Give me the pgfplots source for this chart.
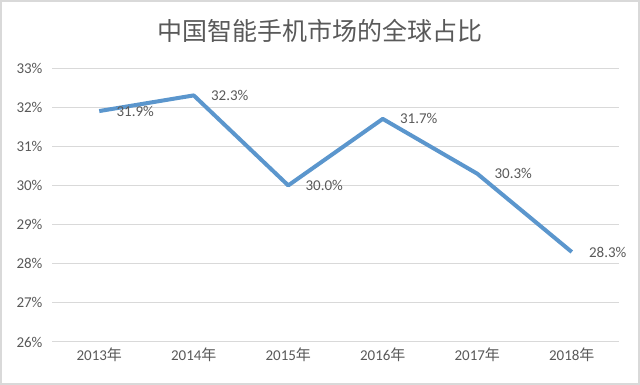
\documentclass[border=0pt]{standalone}
\usepackage{pgfplots}
\pgfplotsset{compat=1.18}
\usepackage{fontspec}
\setmainfont{Carlito}
\newfontfamily\cjk{Noto Sans CJK SC}
\definecolor{txt}{HTML}{595959}
\definecolor{grd}{HTML}{D9D9D9}
\definecolor{ln}{RGB}{91,150,205}
\begin{document}
\begin{tikzpicture}[x=1pt,y=1pt]
\path[use as bounding box] (0,0) rectangle (640,385);
\draw[grd, line width=2pt] (1,1) rectangle (639,384);
\node[text=txt, font=\cjk\fontsize{25}{30}\selectfont] at (320,354) {中国智能手机市场的全球占比};
\begin{axis}[at={(52pt,43pt)}, anchor=south west, scale only axis,
  width=567pt, height=274pt,
  xmin=-0.5, xmax=5.5, ymin=26, ymax=33, ytick={26,27,...,33},
  xtick={0,1,2,3,4,5},
  xticklabels={2013{\cjk 年},2014{\cjk 年},2015{\cjk 年},2016{\cjk 年},2017{\cjk 年},2018{\cjk 年}},
  axis line style={draw=none}, major tick length=0,
  ymajorgrids, grid style={grd, line width=1pt},
  tick label style={font=\fontsize{15}{18}\selectfont, text=txt},
  /pgf/number format/assume math mode=true,
  yticklabel={\pgfmathprintnumber{\tick}\%},
  yticklabel style={xshift=-6pt},
  xticklabel style={yshift=-2pt},
  clip=false]
\addplot[ln, line width=4pt, line join=round, line cap=butt,
  nodes near coords={\pgfmathprintnumber[fixed,fixed zerofill,precision=1]{\pgfplotspointmeta}\%},
  nodes near coords style={anchor=west, xshift=12pt, font=\fontsize{15}{18}\selectfont, text=txt}]
  coordinates {(0,31.9) (1,32.3) (2,30.0) (3,31.7) (4,30.3) (5,28.3)};
\end{axis}
\end{tikzpicture}
\end{document}
